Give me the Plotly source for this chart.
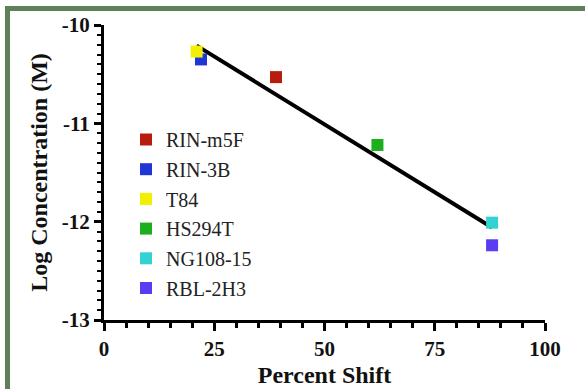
import plotly.graph_objects as go

# Data
cell_lines = ["RIN-m5F", "RIN-3B", "T84", "HS294T", "NG108-15", "RBL-2H3"]
percent_shift = [39, 22, 21, 62, 88, 88]
log_conc = [-10.53, -10.35, -10.27, -11.22, -12.01, -12.24]
colors = ["#b81c0e", "#1f35d6", "#f2f000", "#1cae1c", "#33d2d2", "#5a3cf2"]

fit_x = [21, 88]
fit_y = [-10.21, -12.06]

x_ticks = [0, 25, 50, 75, 100]
x_labels = ["0", "25", "50", "75", "100"]
y_ticks = [-13, -12, -11, -10]
y_labels = ["-13", "-12", "-11", "-10"]

FONT = "Liberation Serif"

fig = go.Figure()

fig.add_trace(go.Scatter(x=fit_x, y=fit_y, mode="lines",
                         line=dict(color="black", width=4),
                         showlegend=False, hoverinfo="skip", cliponaxis=False))

for name, xv, yv, c in zip(cell_lines, percent_shift, log_conc, colors):
    fig.add_trace(go.Scatter(x=[xv], y=[yv], mode="markers", name=name,
                             legendgroup=name,
                             marker=dict(symbol="square", size=12, color=c,
                                         line=dict(width=0)),
                             cliponaxis=False))

W, H = 585, 389
L, R, T, B = 104, 40, 25, 69
pw, ph = W - L - R, H - T - B

def px_x(p):
    return (p - L) / pw

def px_y(p):
    return (H - B - p) / ph

border = "#5d8058"
shapes = [
    dict(type="rect", xref="paper", yref="paper",
         x0=px_x(5), x1=px_x(10), y0=px_y(389), y1=px_y(6),
         fillcolor=border, line=dict(width=0)),
    dict(type="rect", xref="paper", yref="paper",
         x0=px_x(5), x1=px_x(585), y0=px_y(11), y1=px_y(6),
         fillcolor=border, line=dict(width=0)),
]

fig.update_layout(
    width=W, height=H,
    margin=dict(l=L, r=R, t=T, b=B, autoexpand=False),
    paper_bgcolor="white", plot_bgcolor="white",
    font=dict(family=FONT, color="black"),
    shapes=shapes,
    showlegend=True,
    legend=dict(x=px_x(126), y=px_y(120), xanchor="left", yanchor="top",
                font=dict(family=FONT, size=20, color="#222"),
                tracegroupgap=0.7, bgcolor="rgba(0,0,0,0)",
                itemsizing="trace"),
    xaxis=dict(range=[0, 100], tickvals=x_ticks, ticktext=x_labels,
               showgrid=False, zeroline=False, automargin=False,
               showline=True, linecolor="black", linewidth=3,
               ticks="outside", ticklen=8, tickwidth=3, tickcolor="black",
               tickfont=dict(family=FONT, size=21, color="#111", weight="bold"),
               minor=dict(dtick=5, ticks="outside", ticklen=5, tickwidth=3,
                          tickcolor="black", showgrid=False),
               title=dict(text="<b>Percent Shift</b>",
                          font=dict(family=FONT, size=24, color="#111"),
                          standoff=6)),
    yaxis=dict(range=[-13, -10], tickvals=y_ticks, ticktext=y_labels,
               showgrid=False, zeroline=False, automargin=False,
               showline=True, linecolor="black", linewidth=3,
               ticks="outside", ticklen=7, tickwidth=3, tickcolor="black",
               tickfont=dict(family=FONT, size=21, color="#111", weight="bold"),
               minor=dict(dtick=0.1, ticks="outside", ticklen=4, tickwidth=2,
                          tickcolor="black", showgrid=False),
               title=dict(text="<b>Log Concentration (M)</b>",
                          font=dict(family=FONT, size=24, color="#111"),
                          standoff=8)),
)

fig.write_html("out.html", config={"displayModeBar": False},
               post_script="document.body.style.margin='0';")
